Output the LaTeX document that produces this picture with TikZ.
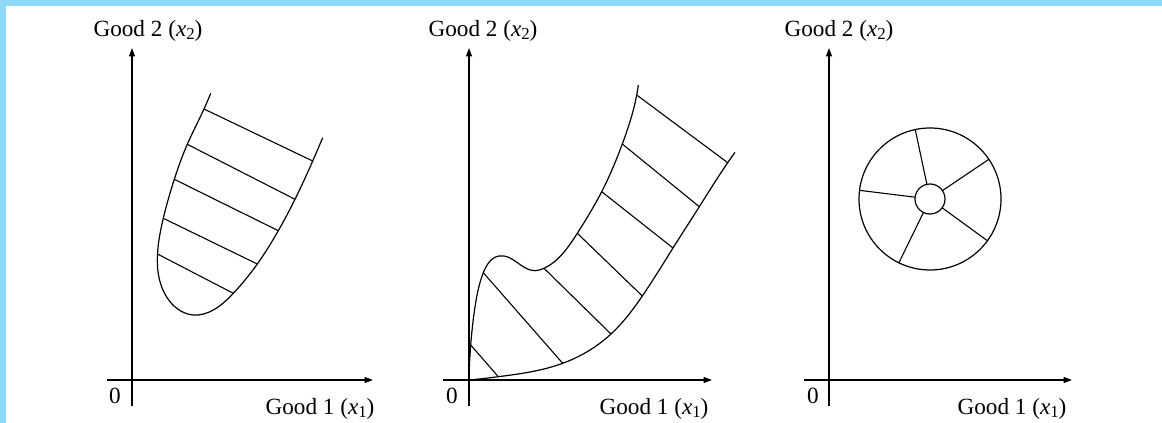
\documentclass[tikz,border=0pt]{standalone}
\usepackage{fontspec}
\setmainfont{Liberation Serif}
\usetikzlibrary{arrows.meta,calc,hobby}
\definecolor{bandblue}{RGB}{143,216,247}
\newcommand\mysub[1]{\raisebox{-0.3ex}{\fontsize{8.4}{9}\selectfont #1}}
\tikzset{
  axis/.style={line width=0.65pt,-{Stealth[length=4.2pt,width=3pt,inset=0pt]}},
  curve/.style={line width=0.6pt},
  hatch/.style={line width=0.55pt},
  lab/.style={inner sep=0pt,anchor=base,font=\fontsize{11.6}{13}\selectfont},
}
\begin{document}
\begin{tikzpicture}[x=0.5pt,y=-0.5pt]
\useasboundingbox (0,0) rectangle (1162,423);
\fill[bandblue] (0,0) rectangle (1162,6);
\fill[bandblue] (0,0) rectangle (6,423);

% ---------- Panel 1 ----------
\coordinate (a1y0) at (132,406); \coordinate (a1y1) at (132,48);
\coordinate (a1x0) at (107,380); \coordinate (a1x1) at (373,380);
\draw[axis] (a1y0) -- (a1y1);
\draw[axis] (a1x0) -- (a1x1);
\node[lab] (p1y) at (148,36) {Good 2 (\textit{x}\mysub{2})};
\node[lab] (p1x) at (320,414) {Good 1 (\textit{x}\mysub{1})};
\node[lab] (p1o) at (115,403) {0};

\coordinate (L1) at (204,109); \coordinate (R1) at (312.7,161);
\coordinate (L2) at (187.3,144.3); \coordinate (R2) at (295,199.3);
\coordinate (L3) at (174.3,179.3); \coordinate (R3) at (278.3,230.7);
\coordinate (L4) at (163.3,218.3); \coordinate (R4) at (257.3,264);
\coordinate (L5) at (157.5,254); \coordinate (R5) at (233.3,293.3);
\draw[curve,use Hobby shortcut] (210.7,93.3) .. (L1) .. (L2) .. (L3) .. (L4) .. (L5) .. (160,281.7) .. (170,301.7) .. (193.3,315) .. (213.3,310) .. (R5) .. (R4) .. (R3) .. (R2) .. (R1) .. (322.7,137.7);
\foreach \i in {1,...,5} \draw[hatch] (L\i) -- (R\i);

% ---------- Panel 2 ----------
\coordinate (a2y0) at (469,406); \coordinate (a2y1) at (469,48);
\coordinate (a2x0) at (443,380); \coordinate (a2x1) at (712,380);
\draw[axis] (a2y0) -- (a2y1);
\draw[axis] (a2x0) -- (a2x1);
\node[lab] (p2y) at (483,36) {Good 2 (\textit{x}\mysub{2})};
\node[lab] (p2x) at (654,414) {Good 1 (\textit{x}\mysub{1})};
\node[lab] (p2o) at (452,403) {0};

\coordinate (O2) at (469,380);
\coordinate (U1) at (470.7,345);   \coordinate (D1) at (498.3,376.7);
\coordinate (U2) at (483.3,272.7); \coordinate (D2) at (562.7,363.3);
\coordinate (U3) at (544,268.3);   \coordinate (D3) at (611,334);
\coordinate (U4) at (577.3,233.3); \coordinate (D4) at (642.3,296);
\coordinate (U5) at (601.7,191.7); \coordinate (D5) at (673,248);
\coordinate (U6) at (622.3,144);   \coordinate (D6) at (699.3,206.7);
\coordinate (U7) at (636.7,95);    \coordinate (D7) at (727.7,162.7);
\draw[curve,use Hobby shortcut] ([out angle=89]O2) .. (U1) .. (475,307) .. (U2) .. (499,256) .. (535,270.7) .. (U3) .. (U4) .. (U5) .. (U6) .. (U7) .. (638.3,85);
\draw[curve,use Hobby shortcut] ([out angle=5]O2) .. (D1) .. (D2) .. (D3) .. (D4) .. (D5) .. (D6) .. (D7) .. (735,152.3);
\foreach \i in {1,...,7} \draw[hatch] (U\i) -- (D\i);

% ---------- Panel 3 ----------
\coordinate (a3y0) at (829,406); \coordinate (a3y1) at (829,48);
\coordinate (a3x0) at (804,380); \coordinate (a3x1) at (1072,380);
\draw[axis] (a3y0) -- (a3y1);
\draw[axis] (a3x0) -- (a3x1);
\node[lab] (p3y) at (839,36) {Good 2 (\textit{x}\mysub{2})};
\node[lab] (p3x) at (1012,414) {Good 1 (\textit{x}\mysub{1})};
\node[lab] (p3o) at (813,403) {0};

\coordinate (C) at (930,199);
\draw[curve] (C) circle[radius=71];
\draw[curve] (C) circle[radius=15];
\foreach \a in {102,34,-36,-116,173}
  \draw[hatch] ($(C)+(-\a:15)$) -- ($(C)+(-\a:71)$);
\end{tikzpicture}
\end{document}
